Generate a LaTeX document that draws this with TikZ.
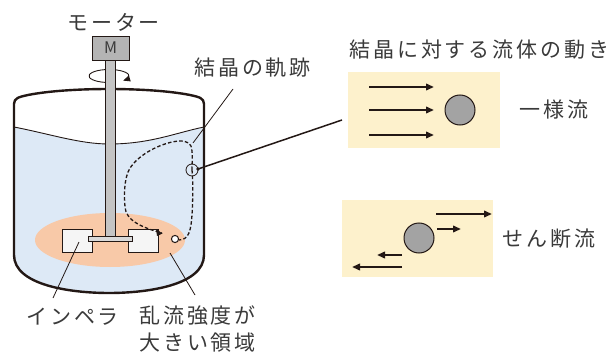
\documentclass[tikz,border=0pt]{standalone}
\usepackage{fontspec}
\setmainfont{Noto Sans CJK JP}[LetterSpace=14]
\newfontfamily\latinfont{Noto Sans CJK JP}
\usetikzlibrary{arrows.meta}
\definecolor{ink}{HTML}{231815}
\definecolor{txt}{HTML}{3A3A3A}
\definecolor{liquid}{HTML}{DDE9F6}
\definecolor{turb}{HTML}{F8C9A8}
\definecolor{panel}{HTML}{FDF1CC}
\definecolor{motorgray}{HTML}{B4B4B4}
\definecolor{shaftgray}{HTML}{C4C4C4}
\definecolor{ballgray}{HTML}{A3A3A3}
\tikzset{
  label text/.style={text=txt, inner sep=0pt, anchor=west, font=\fontsize{21}{25}\selectfont},
  leader/.style={draw=ink, line width=0.8pt},
  flow/.style={draw=ink, line width=2pt, -{Triangle[length=8pt,width=6.5pt]}},
  trail/.style={draw=ink, line width=1.3pt, dash pattern=on 3.5pt off 2.2pt},
  panelbox/.style={fill=panel, draw=none},
}
\begin{document}
\begin{tikzpicture}[x=1pt,y=-1pt]
\useasboundingbox (0,0) rectangle (614,353);

% liquid body
\fill[liquid] (14,127) .. controls (50,134) and (80,144) .. (109,144)
  .. controls (150,144) and (175,133) .. (204,127)
  -- (204,255) .. controls (204,285) and (148,293) .. (109,293)
  .. controls (70,293) and (14,285) .. (14,255) -- cycle;
% zone of strong turbulence
\fill[turb] (110,240) ellipse[x radius=75, y radius=27];
% liquid surface
\draw[ink, line width=0.9pt] (14,127) .. controls (50,134) and (80,144) .. (109,144)
  .. controls (150,144) and (175,133) .. (204,127);

% vessel outline
\draw[ink, line width=2.4pt, line join=round]
  (14,104) -- (14,255) .. controls (14,285) and (70,293) .. (109,293)
  .. controls (148,293) and (204,285) .. (204,255) -- (204,104)
  .. controls (204,98) and (199,97) .. (190,95)
  .. controls (150,87) and (68,87) .. (28,95)
  .. controls (19,97) and (14,98) .. (14,104) -- cycle;

% rotation arrow around the shaft
\draw[ink, line width=0.9pt, -{Triangle[length=7pt,width=6pt]}]
  (109,76) ++(100:20 and 6.5) arc[start angle=100, end angle=405, x radius=20, y radius=6.5];

% shaft
\draw[ink, fill=shaftgray, line width=0.8pt] (105,60) rectangle (115,238);

% motor
\node[draw=ink, fill=motorgray, line width=0.9pt, minimum width=37pt, minimum height=24pt, inner sep=0pt,
  text=txt, font=\latinfont\fontsize{16}{18}\selectfont] (motor) at (110.5,48) {M};
\node[label text] (motorlabel) at (67,22) {モーター};

% impeller
\draw[ink, fill=white!96!black, line width=0.9pt] (62,229) rectangle (92,252);
\draw[ink, fill=white!96!black, line width=0.9pt] (128,229) rectangle (158,252);
\draw[ink, fill=white!85!black, line width=0.8pt] (88,236.5) rectangle (132,241);

% crystal trajectory
\coordinate (crystal) at (175,239);
\coordinate (probe) at (192,170);
\draw[trail]
  (probe) .. controls (193,178) and (193,200) .. (192,215)
  .. controls (191,230) and (189,240) .. (179,240);
\draw[trail] (probe) .. controls (192,162) and (193,152) .. (191,146)
  .. controls (189,141) and (182,140) .. (172,142)
  .. controls (155,146) and (138,156) .. (130,168)
  .. controls (124,178) and (124,195) .. (125,207)
  .. controls (126,220) and (140,227) .. (162,233);
\fill[ink] (162.5,233.5) -- (156,229) -- (157,236) -- cycle;
\draw[ink, fill=white, line width=1pt] (crystal) circle[radius=3.6];
\draw[ink, line width=0.8pt] (probe) circle[radius=6];

% labels inside the vessel area
\node[label text] (traillabel) at (194,68) {結晶の軌跡};
\coordinate (trailfoot) at (233,89);
\coordinate (trailtip) at (193,143);
\draw[leader] (trailfoot) -- (trailtip);

\node[label text] (implabel) at (26,317) {インペラ};
\coordinate (impfoot) at (53,298);
\coordinate (imptip) at (79,242);
\draw[leader] (impfoot) -- (imptip);

\node[label text, align=left] (turblabel) at (139,329) {乱流強度が\\[2pt]大きい領域};
\coordinate (turbfoot) at (195,295);
\coordinate (turbtip) at (170,253);
\draw[leader] (turbfoot) -- (turbtip);

% pointer from the crystal to the flow panels
\coordinate (pointstart) at (198,169);
\coordinate (pointend) at (342,120);
\draw[ink, line width=1.5pt] (pointstart) -- (pointend);
\fill[ink] (pointstart) circle[radius=1.8];

% flow panels
\node[label text] (flowtitle) at (349,50) {結晶に対する流体の動き};

\fill[panelbox] (348,72) rectangle (500,148);
\draw[flow] (369,87) -- (434,87);
\draw[flow] (369,110) -- (434,110);
\draw[flow] (369,135) -- (434,135);
\node[draw=ink, fill=ballgray, line width=1pt, circle, minimum size=30pt, inner sep=0pt] (ballA) at (460,110) {};
\node[label text] (uniformlabel) at (519,110) {一様流};

\fill[panelbox] (342,200) rectangle (493,277);
\draw[flow] (436,214) -- (492,214);
\draw[flow] (437,229) -- (461,229);
\draw[flow] (402,255) -- (377,255);
\draw[flow] (402,267) -- (352,267);
\node[draw=ink, fill=ballgray, line width=1pt, circle, minimum size=30pt, inner sep=0pt] (ballB) at (419,238) {};
\node[label text] (shearlabel) at (502,239) {せん断流};
\end{tikzpicture}
\end{document}
